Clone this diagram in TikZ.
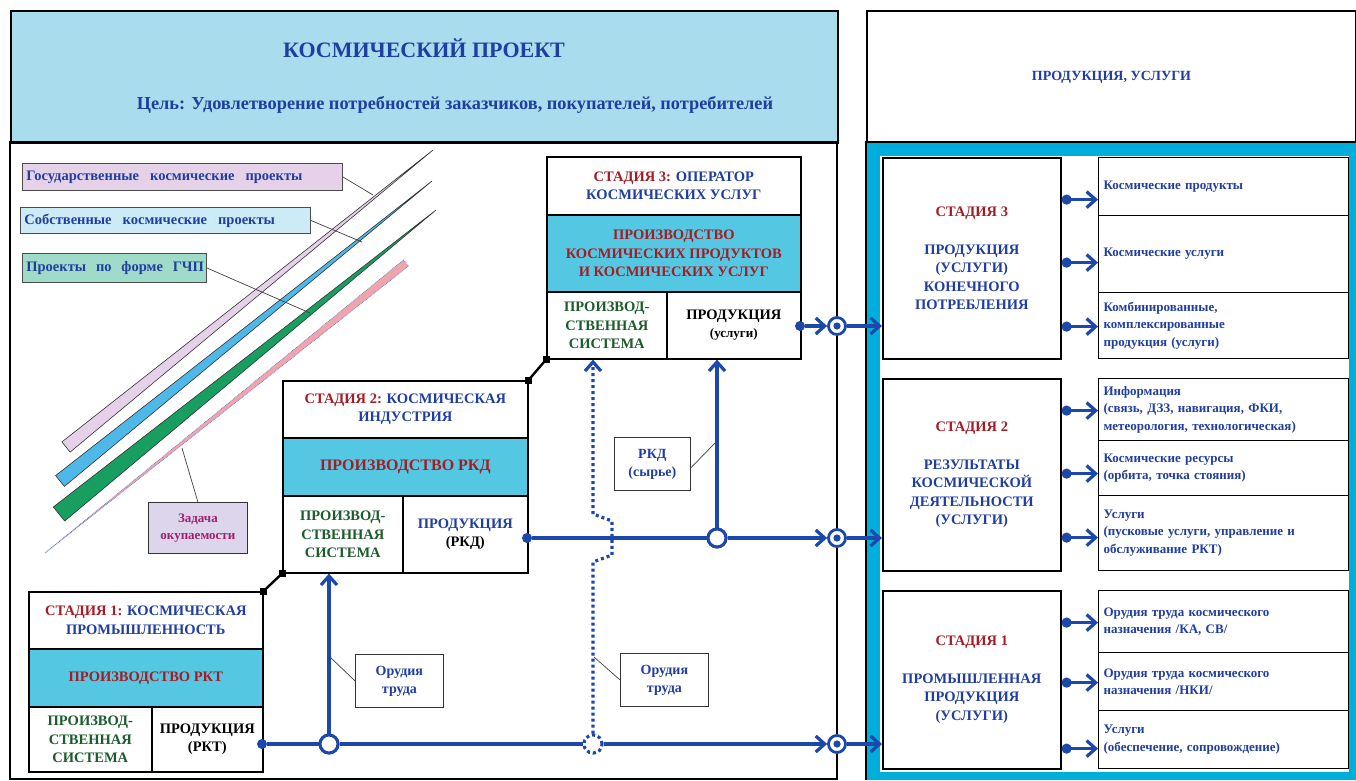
\documentclass[tikz,border=0pt]{standalone}
\usepackage{fontspec}
\setmainfont{Liberation Serif}
\usetikzlibrary{arrows.meta,calc}

\definecolor{hdrfill}{RGB}{169,221,237}
\definecolor{bandfill}{RGB}{84,200,226}
\definecolor{rimcyan}{RGB}{0,174,219}
\definecolor{tblue}{RGB}{32,62,160}
\definecolor{tred}{RGB}{165,28,36}
\definecolor{tgreen}{RGB}{28,92,44}
\definecolor{fblue}{RGB}{28,72,172}
\definecolor{lavfill}{RGB}{230,210,232}
\definecolor{skyfill}{RGB}{205,234,247}
\definecolor{mintfill}{RGB}{160,218,200}
\definecolor{lilacfill}{RGB}{220,213,236}
\definecolor{tmag}{RGB}{160,32,112}
\definecolor{barblue}{RGB}{78,184,232}
\definecolor{bargreen}{RGB}{24,158,96}
\definecolor{barpink}{RGB}{240,165,172}

\tikzset{
  cell/.style={draw=black, line width=1.6pt, anchor=north west, inner sep=0pt,
    align=center, font=\bfseries\fontsize{14.5}{18.5}\selectfont},
  band/.style={cell, fill=bandfill},
  stagebox/.style={cell, text=tblue},
  itembox/.style={draw=black, line width=1.2pt, anchor=north west, inner xsep=5pt,
    inner ysep=0pt, text width=240pt, align=left,
    font=\bfseries\fontsize{13}{17.5}\selectfont, text=tblue},
  flow/.style={draw=fblue, line width=3.2pt},
  tip/.style={-{Straight Barb[length=9pt,width=16pt]}},
  dottip/.style={{Circle[length=10pt]}-{Straight Barb[length=9pt,width=16pt]}},
  dot/.style={circle, fill=fblue, inner sep=0pt, minimum size=10pt},
  hub/.style={circle, draw=fblue, line width=3pt, fill=white, inner sep=0pt, minimum size=18pt},
  dothub/.style={circle, draw=fblue, line width=3pt, dash pattern=on 3pt off 3pt,
    fill=white, inner sep=0pt, minimum size=18pt},
  junc/.style={circle, draw=fblue, line width=2.8pt, fill=white, inner sep=0pt,
    minimum size=17pt,
    path picture={\fill[fblue] (path picture bounding box.center) circle (3.6pt);}},
  note/.style={draw=black!80, line width=0.8pt, anchor=north west, inner sep=0pt,
    align=center, font=\bfseries\fontsize{14}{18}\selectfont, text=tblue},
  tag/.style={draw=black!70, line width=0.8pt, anchor=north west, inner xsep=4pt,
    inner ysep=0pt, align=left, font=\bfseries\fontsize{14.5}{16}\selectfont, text=tblue},
  leader/.style={draw=black!75, line width=0.7pt},
  link/.style={draw=black, line width=2.4pt},
  sq/.style={fill=black, inner sep=0pt, minimum size=7pt},
  bar/.style={draw=black!80, line width=0.6pt},
}

\newcommand{\ws}{\hspace{11pt}}
\newcommand{\itemarrow}[3]{%
  \draw[flow, dottip] ([yshift=-#3]#2.west -| #1.east) -- ([yshift=-#3]#2.west);}

\begin{document}
\begin{tikzpicture}[x=1pt,y=-1pt]
\useasboundingbox (0,0) rectangle (1356,780);
\fill[white] (0,0) rectangle (1356,780);

% ---------- left frame: project header and body ----------
\node[draw=black, line width=2pt, fill=hdrfill, anchor=north west, inner sep=0pt,
  minimum width=827pt, minimum height=132pt] (hdr) at (10,10) {};
\draw[black, line width=2pt] (10,142) rectangle (837,779);
\node[font=\bfseries\fontsize{22}{25}\selectfont, text=tblue] (ttl) at (424,48) {КОСМИЧЕСКИЙ ПРОЕКТ};
\node[font=\bfseries\fontsize{18.3}{21}\selectfont, text=tblue] (goal) at (455,105)
  {Цель: Удовлетворение потребностей заказчиков, покупателей, потребителей};

% ---------- right frame: products and services ----------
\node[draw=black, line width=2pt, fill=white, anchor=north west, inner sep=0pt,
  minimum width=489pt, minimum height=132pt,
  font=\bfseries\fontsize{14}{16}\selectfont, text=tblue] (prodhdr) at (866,10) {ПРОДУКЦИЯ, УСЛУГИ};
\fill[rimcyan] (866,142) rectangle (1356,780);
\fill[white] (880,156) rectangle (1349,772);
\draw[black, line width=1.5pt] (866,780) -- (866,142) -- (1356,142);

% ---------- project bars ----------
\filldraw[bar, fill=lavfill] (61.9,441.9) -- (433,150) -- (70.1,452.1) -- cycle;
\filldraw[bar, fill=barblue] (55.6,475.6) -- (432,181) -- (64.4,486.4) -- cycle;
\filldraw[bar, fill=bargreen] (53.3,507.0) -- (436,210) -- (64.7,521.0) -- cycle;
\filldraw[draw=fblue!70, line width=0.7pt, densely dotted, fill=barpink]
  (403.5,259.9) -- (408.5,266.1) -- (45,553) -- cycle;

\node[tag, fill=lavfill, minimum width=320pt, minimum height=27pt, text width=312pt] (pgov) at (22,163)
  {\mbox{Государственные\ws космические\ws проекты}};
\node[tag, fill=skyfill, minimum width=290pt, minimum height=26pt, text width=282pt] (pown) at (20,207)
  {\mbox{Собственные\ws космические\ws проекты}};
\node[tag, fill=mintfill, minimum width=184pt, minimum height=29pt, text width=176pt] (pppp) at (22,253)
  {\mbox{Проекты\hspace{5pt} по\hspace{5pt} форме\hspace{5pt} ГЧП}};
\node[note, fill=lilacfill, text=tmag, minimum width=99pt, minimum height=51pt,
  font=\bfseries\fontsize{13}{16.5}\selectfont] (payback) at (148,502) {Задача\\окупаемости};

\coordinate (bgov) at (373,195);
\coordinate (bown) at (362,242);
\coordinate (bppp) at (310,313);
\coordinate (bpay) at (182,448);
\draw[leader] (pgov.east) -- (bgov);
\draw[leader] (pown.east) -- (bown);
\draw[leader] (pppp.east) -- (bppp);
\draw[leader] (payback.north) -- (bpay);

% ---------- stage 3: space services operator ----------
\node[stagebox, minimum width=254pt, minimum height=58pt] (s3h) at (546,156)
  {\textcolor{tred}{СТАДИЯ 3:} ОПЕРАТОР\\КОСМИЧЕСКИХ УСЛУГ};
\node[band, text=tred, minimum width=254pt, minimum height=77pt] (s3c) at (546,214)
  {ПРОИЗВОДСТВО\\КОСМИЧЕСКИХ ПРОДУКТОВ\\И КОСМИЧЕСКИХ УСЛУГ};
\node[cell, text=tgreen, minimum width=120pt, minimum height=67pt] (s3l) at (546,291)
  {ПРОИЗВОД-\\СТВЕННАЯ\\СИСТЕМА};
\node[cell, minimum width=134pt, minimum height=67pt] (s3r) at (666,291)
  {ПРОДУКЦИЯ\\{\fontsize{13}{15}\selectfont (услуги)}};

% ---------- stage 2: space industry ----------
\node[stagebox, minimum width=245pt, minimum height=57pt] (s2h) at (282,380)
  {\textcolor{tred}{СТАДИЯ 2:} КОСМИЧЕСКАЯ\\ИНДУСТРИЯ};
\node[band, text=tred, minimum width=245pt, minimum height=58pt,
  font=\bfseries\fontsize{16}{18.5}\selectfont] (s2c) at (282,437)
  {ПРОИЗВОДСТВО РКД};
\node[cell, text=tgreen, minimum width=120pt, minimum height=77pt] (s2l) at (282,495)
  {ПРОИЗВОД-\\СТВЕННАЯ\\СИСТЕМА};
\node[cell, minimum width=125pt, minimum height=77pt] (s2r) at (402,495)
  {\textcolor{tblue}{ПРОДУКЦИЯ}\\(РКД)};

% ---------- stage 1: space manufacturing ----------
\node[stagebox, minimum width=234pt, minimum height=57pt] (s1h) at (28,591)
  {\textcolor{tred}{СТАДИЯ 1:} КОСМИЧЕСКАЯ\\ПРОМЫШЛЕННОСТЬ};
\node[band, text=tred, minimum width=234pt, minimum height=58pt] (s1c) at (28,648)
  {ПРОИЗВОДСТВО РКТ};
\node[cell, text=tgreen, minimum width=123pt, minimum height=65pt] (s1l) at (28,706)
  {ПРОИЗВОД-\\СТВЕННАЯ\\СИСТЕМА};
\node[cell, minimum width=111pt, minimum height=65pt] (s1r) at (151,706)
  {ПРОДУКЦИЯ\\(РКТ)};

% stage links
\draw[link] (s1h.north east) -- (s2l.south west);
\draw[link] (s2h.north east) -- (s3l.south west);
\node[sq] at (s1h.north east) {};
\node[sq] at (s2l.south west) {};
\node[sq] at (s2h.north east) {};
\node[sq] at (s3l.south west) {};

% ---------- right column: results per stage ----------
\node[stagebox, minimum width=178pt, minimum height=201pt] (r3) at (882,157)
  {\textcolor{tred}{СТАДИЯ 3}\\[19pt]ПРОДУКЦИЯ\\(УСЛУГИ)\\КОНЕЧНОГО\\ПОТРЕБЛЕНИЯ};
\node[stagebox, minimum width=178pt, minimum height=192pt] (r2) at (882,378)
  {\textcolor{tred}{СТАДИЯ 2}\\[19pt]РЕЗУЛЬТАТЫ\\КОСМИЧЕСКОЙ\\ДЕЯТЕЛЬНОСТИ\\(УСЛУГИ)};
\node[stagebox, minimum width=178pt, minimum height=178pt] (r1) at (882,590)
  {\textcolor{tred}{СТАДИЯ 1}\\[19pt]ПРОМЫШЛЕННАЯ\\ПРОДУКЦИЯ\\(УСЛУГИ)};

\node[itembox, minimum height=58pt] (i31) at (1098,157) {Космические продукты};
\node[itembox, minimum height=77pt] (i32) at (1098,215) {Космические услуги};
\node[itembox, minimum height=66pt] (i33) at (1098,292)
  {Комбинированные,\\комплексированные\\продукция (услуги)};
\node[itembox, minimum height=62pt] (i21) at (1098,378)
  {Информация\\(связь, ДЗЗ, навигация, ФКИ,\\метеорология, технологическая)};
\node[itembox, minimum height=55pt] (i22) at (1098,440)
  {Космические ресурсы\\(орбита, точка стояния)};
\node[itembox, minimum height=75pt] (i23) at (1098,495)
  {Услуги\\(пусковые услуги, управление и\\обслуживание РКТ)};
\node[itembox, minimum height=62pt] (i11) at (1098,590)
  {Орудия труда космического\\назначения /КА, СВ/};
\node[itembox, minimum height=58pt] (i12) at (1098,652)
  {Орудия труда космического\\назначения /НКИ/};
\node[itembox, minimum height=58pt] (i13) at (1098,710)
  {Услуги\\(обеспечение, сопровождение)};

\itemarrow{r3}{i31}{13pt}
\itemarrow{r3}{i32}{8.5pt}
\itemarrow{r3}{i33}{1pt}
\itemarrow{r2}{i21}{1pt}
\itemarrow{r2}{i22}{5.5pt}
\itemarrow{r2}{i23}{4.5pt}
\itemarrow{r1}{i11}{1pt}
\itemarrow{r1}{i12}{1pt}
\itemarrow{r1}{i13}{9pt}

% ---------- product flows ----------
\node[dot] (d3) at (800,326) {};
\node[dot] (d2) at (527,538) {};
\node[dot] (d1) at (262,744) {};
\node[hub] (oc2) at (717,538) {};
\node[hub] (oc1) at (329,744) {};
\node[dothub] (dc) at (593,744) {};

% flow 1: rocket and space technology
\draw[flow] (d1) -- (oc1);
\draw[flow] (oc1) -- (dc);
\draw[flow, tip] (oc1.north) -- (oc1.north |- s2l.south);
% flow 2: rocket and space activity
\draw[flow] (d2) -- (oc2);
\draw[flow, tip] (oc2.north) -- (oc2.north |- s3r.south);

\node[junc] (j3) at (837,326) {};
\node[junc] (j2) at (837,538) {};
\node[junc] (j1) at (837,744) {};

\draw[flow, tip] (dc) -- (j1.west);
\draw[flow, tip] (oc2) -- (j2.west);
\draw[flow, tip] (d3) -- (j3.west);
\draw[flow, tip] (j3.east) -- (j3.east -| r3.west);
\draw[flow, tip] (j2.east) -- (j2.east -| r2.west);
\draw[flow, tip] (j1.east) -- (j1.east -| r1.west);
\node[hub] at (oc1) {};
\node[hub] at (oc2) {};
\node[dothub] at (dc) {};

% dotted tools flow with a hop over flow 2
\coordinate (hopa) at (593,562);
\coordinate (hopb) at (612,555);
\coordinate (hopc) at (612,521);
\coordinate (hopd) at (593,514);
\draw[draw=fblue, line width=3.2pt, dash pattern=on 3pt off 3pt, tip]
  (dc.north) -- (hopa) -- (hopb) -- (hopc) -- (hopd) -- (dc.north |- s3l.south);

% ---------- flow labels ----------
\node[note, fill=white, minimum width=88pt, minimum height=53pt] (lt1) at (355,654) {Орудия\\труда};
\node[note, fill=white, minimum width=88pt, minimum height=53pt] (lt2) at (620,653) {Орудия\\труда};
\node[note, fill=white, minimum width=76pt, minimum height=53pt] (lrkd) at (614,437) {РКД\\(сырье)};
\coordinate (at1) at (330,657);
\coordinate (at2) at (594,657);
\coordinate (ark) at (717,441);
\draw[leader] (lt1.west) -- (at1);
\draw[leader] (lt2.west) -- (at2);
\draw[leader] ([yshift=-4pt]lrkd.east) -- (ark);
\end{tikzpicture}
\end{document}
